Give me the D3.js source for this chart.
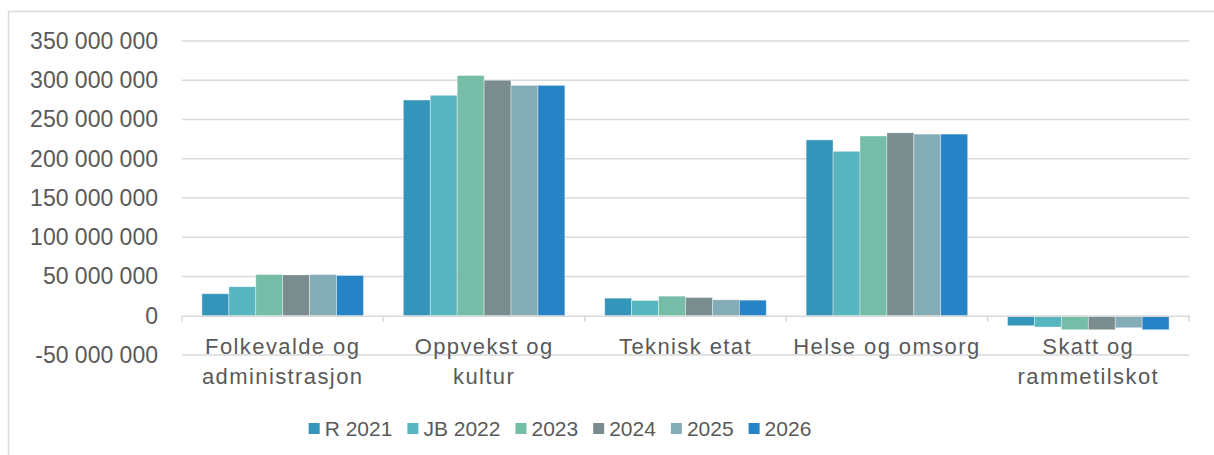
<!DOCTYPE html>
<html>
<head>
<meta charset="utf-8">
<script src="https://cdn.jsdelivr.net/npm/d3@7"></script>
<style>
  html, body { margin: 0; padding: 0; background: #fff; }
  svg { display: block; }
  text { font-family: "Liberation Sans", Arial, sans-serif; fill: #595959; }
</style>
</head>
<body>
<svg id="chart" width="1214" height="455"></svg>
<script>
// ---- data ----
const categories = ["Folkevalde og\nadministrasjon", "Oppvekst og\nkultur", "Teknisk etat", "Helse og omsorg", "Skatt og\nrammetilskot"];
const seriesNames = ["R 2021", "JB 2022", "2023", "2024", "2025", "2026"];
const r2021  = [28000000, 274800000, 22400000, 224000000, -12700000];
const jb2022 = [37000000, 280800000, 19500000, 209500000, -14400000];
const y2023  = [52500000, 306000000, 25000000, 229000000, -17800000];
const y2024  = [52000000, 300000000, 23300000, 233000000, -17800000];
const y2025  = [52500000, 293500000, 20300000, 231400000, -15300000];
const y2026  = [51300000, 293500000, 19900000, 231400000, -17800000];
const seriesValues = [r2021, jb2022, y2023, y2024, y2025, y2026];
const colors = ["#3494BA", "#58B6C0", "#75BDA7", "#7A8C8E", "#84ACB6", "#2683C6"];
const yTicks = [-50000000, 0, 50000000, 100000000, 150000000, 200000000, 250000000, 300000000, 350000000];

// ---- layout ----
const svg = d3.select("#chart");
const plot = { left: 182, right: 1189, top: 41, bottom: 355 };

// chart border
svg.append("rect").attr("x", 8.5).attr("y", 11.5).attr("width", 1220).attr("height", 460)
  .attr("fill", "none").attr("stroke", "#d9d9d9").attr("stroke-width", 1.5);

const y = d3.scaleLinear().domain([-50000000, 350000000]).range([plot.bottom, plot.top]);
const x0 = d3.scaleBand().domain(categories).range([plot.left, plot.right]).paddingInner(0).paddingOuter(0);
const x1 = d3.scaleBand().domain(seriesNames).range([0, x0.bandwidth()]).paddingInner(0).paddingOuter(0.74);

const fmt = v => d3.format(",")(v).replace(/,/g, " ").replace("−", "-");

// gridlines
svg.append("g").selectAll("line").data(yTicks.filter(t => t !== 0)).join("line")
  .attr("x1", plot.left).attr("x2", plot.right)
  .attr("y1", d => y(d)).attr("y2", d => y(d))
  .attr("stroke", "#d9d9d9").attr("stroke-width", 1.5);

// y axis labels
const yAxis = d3.axisLeft(y).tickValues(yTicks).tickFormat(fmt).tickSize(0).tickPadding(24);
const gy = svg.append("g").attr("transform", `translate(${plot.left},0)`).call(yAxis);
gy.select(".domain").remove();
gy.selectAll("text").style("font-size", "23px").style("fill", "#595959")
  .style("font-family", "'Liberation Sans', Arial, sans-serif");

// bars
const groups = svg.append("g").selectAll("g").data(categories).join("g")
  .attr("transform", d => `translate(${x0(d)},0)`);
groups.selectAll("rect")
  .data((c, ci) => seriesNames.map((s, si) => ({ s, si, v: seriesValues[si][ci] })))
  .join("rect")
  .attr("x", d => x1(d.s))
  .attr("width", x1.bandwidth())
  .attr("y", d => y(Math.max(0, d.v)))
  .attr("height", d => Math.abs(y(d.v) - y(0)))
  .attr("fill", d => colors[d.si])
  .attr("stroke", "#ffffff").attr("stroke-opacity", 0.5).attr("stroke-width", 0.75);

// category axis at zero
const xAxis = d3.axisBottom(x0).tickSize(0).tickFormat("");
const gx = svg.append("g").attr("transform", `translate(0,${y(0)})`).call(xAxis);
gx.select(".domain").attr("stroke", "#d9d9d9").attr("stroke-width", 1.5);
const boundaries = categories.map(c => x0(c)).concat([plot.right]);
svg.append("g").selectAll("line").data(boundaries).join("line")
  .attr("x1", d => d).attr("x2", d => d)
  .attr("y1", y(0)).attr("y2", y(0) + 6)
  .attr("stroke", "#d9d9d9").attr("stroke-width", 1.5);

// category labels
const catG = svg.append("g");
categories.forEach(c => {
  const lines = c.split("\n");
  const t = catG.append("text")
    .attr("x", x0(c) + x0.bandwidth() / 2)
    .attr("y", 354)
    .attr("text-anchor", "middle")
    .style("font-size", "22px")
    .style("letter-spacing", "1.4px");
  lines.forEach((ln, i) => {
    t.append("tspan").attr("x", x0(c) + x0.bandwidth() / 2).attr("y", 354 + i * 30).text(ln);
  });
});

// legend
const legend = svg.append("g");
const items = seriesNames.map((s, i) => {
  const g = legend.append("g");
  g.append("rect").attr("x", 0).attr("y", -5.5).attr("width", 11).attr("height", 11).attr("fill", colors[i]);
  const tx = g.append("text").attr("x", 16).attr("y", 0).attr("dy", "0.36em")
    .style("font-size", "21px").text(s);
  return { g, w: 16 + tx.node().getComputedTextLength() };
});
const gap = 15;
const total = d3.sum(items, d => d.w) + gap * (items.length - 1);
let cx = 560 - total / 2;
items.forEach(it => {
  it.g.attr("transform", `translate(${cx},428.5)`);
  cx += it.w + gap;
});
</script>
</body>
</html>
